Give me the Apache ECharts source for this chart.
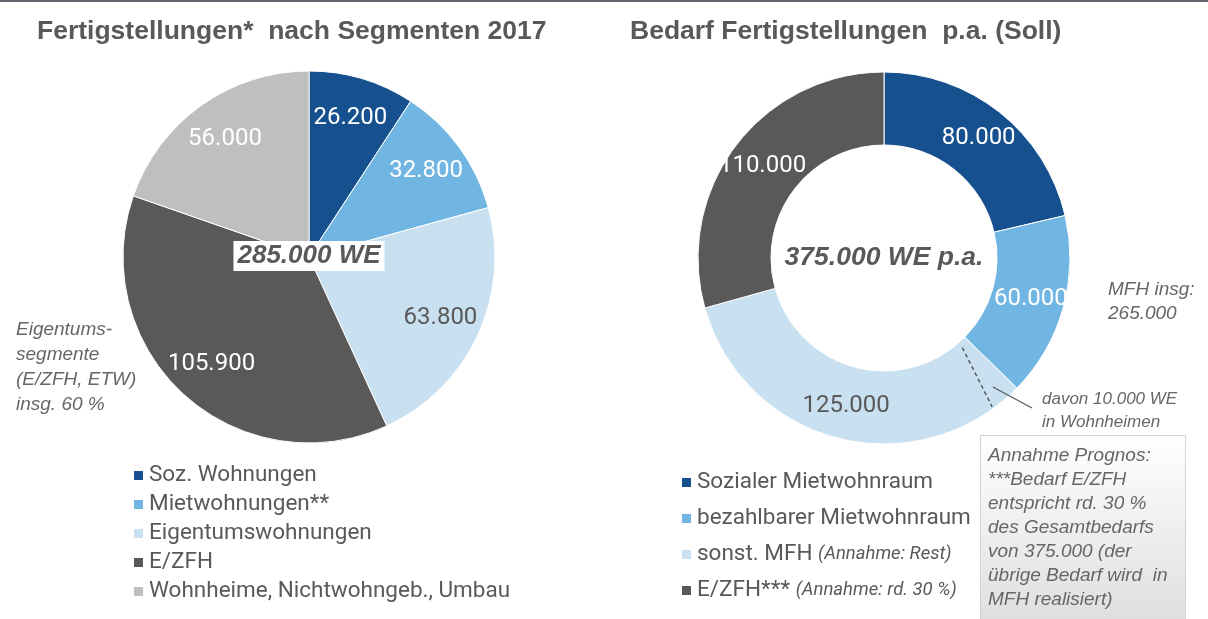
<!DOCTYPE html>
<html>
<head>
<meta charset="utf-8">
<script src="https://cdn.jsdelivr.net/npm/echarts@6/dist/echarts.min.js"></script>
<style>
  html, body { margin: 0; padding: 0; background: #fff; }
  #chart { width: 1208px; height: 619px; }
</style>
</head>
<body>
<div id="chart"></div>
<script>
// Fertigstellungen nach Segmenten 2017
const segNames = ['Soz. Wohnungen', 'Mietwohnungen**', 'Eigentumswohnungen', 'E/ZFH', 'Wohnheime, Nichtwohngeb., Umbau'];
const segValues = [26200, 32800, 63800, 105900, 56000];
// Bedarf Fertigstellungen p.a.
const needNames = ['Sozialer Mietwohnraum', 'bezahlbarer Mietwohnraum', 'sonst. MFH', 'E/ZFH***'];
const needValues = [80000, 60000, 125000, 110000];
const needNotes = ['', '', '(Annahme: Rest)', '(Annahme: rd. 30 %)'];
const wohnheimValue = 10000; // Teil von sonst. MFH

const colors = ['#17508f', '#71b5e2', '#c8e0f0', '#595959', '#bfbfbf'];
const labelColors = ['#ffffff', '#ffffff', '#595959', '#ffffff', '#ffffff'];
const txt = '#595959';
const font = 'Roboto, "Liberation Sans", sans-serif';
const arial = '"Liberation Sans", Arial, sans-serif';

function fmt(v) {
  return String(v).replace(/\B(?=(\d{3})+(?!\d))/g, '.');
}

const leftCenter = [309, 257];
const rightCenter = [884, 258];
const rOuter = 186, rInner = 113;

const segData = segNames.map((n, i) => ({ name: n, value: segValues[i], itemStyle: { color: colors[i] } }));
const segLabelData = segNames.map((n, i) => ({
  name: n, value: segValues[i],
  label: { color: labelColors[i] }
}));
const needData = needNames.map((n, i) => ({
  name: n, value: needValues[i],
  itemStyle: { color: colors[i] },
  label: { color: labelColors[i] }
}));

// gestrichelte Linie: Anteil Wohnheime innerhalb sonst. MFH
const needSum = needValues.reduce((a, b) => a + b, 0);
const ang = (needValues[0] + needValues[1] + wohnheimValue) / needSum * Math.PI * 2;
const dashX1 = rightCenter[0] + (rInner + 6) * Math.sin(ang - 0.09);
const dashY1 = rightCenter[1] - (rInner + 6) * Math.cos(ang - 0.09);
const dashX2 = rightCenter[0] + (rOuter - 2) * Math.sin(ang);
const dashY2 = rightCenter[1] - (rOuter - 2) * Math.cos(ang);

const noteLines = ['Annahme Prognos:', '***Bedarf E/ZFH', 'entspricht rd. 30 %', 'des Gesamtbedarfs',
  'von 375.000 (der', 'übrige Bedarf wird  in', 'MFH realisiert)'];

const chart = echarts.init(document.getElementById('chart'));
const option = {
  animation: false,
  title: [
    { text: 'Fertigstellungen*  nach Segmenten 2017', left: 32, top: 13,
      textStyle: { fontFamily: arial, fontWeight: 'bold', fontSize: 26.5, color: txt } },
    { text: 'Bedarf Fertigstellungen  p.a. (Soll)', left: 625, top: 13,
      textStyle: { fontFamily: arial, fontWeight: 'bold', fontSize: 26.5, color: txt } }
  ],
  legend: [
    {
      orient: 'vertical', left: 127, top: 459, itemWidth: 11, itemHeight: 11, itemGap: 6,
      icon: 'rect',
      data: segNames.map((n, i) => ({ name: n, itemStyle: { color: colors[i] } })),
      textStyle: { fontFamily: font, fontSize: 22.5, color: txt, lineHeight: 23 },
      selectedMode: false
    },
    {
      orient: 'vertical', left: 675, top: 466, itemWidth: 11, itemHeight: 11, itemGap: 13,
      icon: 'rect',
      data: needNames.map((n, i) => ({ name: n, itemStyle: { color: colors[i] } })),
      formatter: name => {
        const note = needNotes[needNames.indexOf(name)];
        return note ? name + ' {i|' + note + '}' : name;
      },
      textStyle: {
        fontFamily: font, fontSize: 22.5, color: txt, lineHeight: 23,
        rich: { i: { fontFamily: font, fontSize: 18.5, fontStyle: 'italic', color: txt, lineHeight: 23 } }
      },
      selectedMode: false
    }
  ],
  series: [
    {
      type: 'pie', center: leftCenter, radius: rOuter, silent: true,
      startAngle: 90, clockwise: true,
      itemStyle: { borderColor: '#ffffff', borderWidth: 1 },
      label: { show: false }, labelLine: { show: false },
      data: segData
    },
    {
      // nur Beschriftung, weiter außen platziert
      type: 'pie', center: leftCenter, radius: [98, rOuter], silent: true,
      startAngle: 90, clockwise: true,
      itemStyle: { color: 'rgba(0,0,0,0)' },
      label: { show: true, position: 'inside', fontFamily: font, fontSize: 24,
        formatter: p => fmt(p.value) },
      labelLine: { show: false },
      data: segLabelData
    },
    {
      type: 'pie', center: rightCenter, radius: [rInner, rOuter], silent: true,
      startAngle: 90, clockwise: true,
      itemStyle: { borderColor: '#ffffff', borderWidth: 1 },
      label: { show: true, position: 'inside', fontFamily: font, fontSize: 24,
        formatter: p => fmt(p.value) },
      labelLine: { show: false },
      data: needData
    }
  ],
  graphic: [
    { type: 'rect', z: 100, left: 0, top: 0, shape: { width: 1208, height: 2 }, style: { fill: '#5e656d' } },
    {
      type: 'text', z: 100, x: leftCenter[0], y: leftCenter[1] - 1,
      style: { text: '285.000 WE', align: 'center', verticalAlign: 'middle',
        font: 'italic bold 26px ' + arial, fill: txt,
        backgroundColor: '#ffffff', padding: [3, 4, 1, 4] }
    },
    {
      type: 'text', z: 100, x: rightCenter[0], y: rightCenter[1],
      style: { text: '375.000 WE p.a.', align: 'center', verticalAlign: 'middle',
        font: 'italic bold 26.5px ' + arial, fill: txt }
    },
    {
      type: 'text', z: 100, x: 16, y: 317,
      style: { text: 'Eigentums-\nsegmente\n(E/ZFH, ETW)\ninsg. 60 %', lineHeight: 25,
        font: 'italic 19px ' + arial, fill: '#666666' }
    },
    {
      type: 'text', z: 100, x: 1108, y: 278,
      style: { text: 'MFH insg:\n265.000', lineHeight: 24,
        font: 'italic 19px ' + arial, fill: '#666666' }
    },
    {
      type: 'text', z: 100, x: 1042, y: 388,
      style: { text: 'davon 10.000 WE\nin Wohnheimen', lineHeight: 23,
        font: 'italic 17px ' + arial, fill: '#666666' }
    },
    {
      type: 'line', z: 100, shape: { x1: dashX1, y1: dashY1, x2: dashX2, y2: dashY2 },
      style: { stroke: '#555555', lineWidth: 1.4, lineDash: [4, 3] }
    },
    {
      type: 'line', z: 100, shape: { x1: 993, y1: 387, x2: 1032, y2: 408 },
      style: { stroke: '#555555', lineWidth: 1.2 }
    },
    {
      type: 'rect', z: 100, shape: { x: 980.5, y: 435.5, width: 205, height: 190 },
      style: {
        stroke: '#d4d4d4', lineWidth: 1,
        fill: new echarts.graphic.LinearGradient(0, 0, 0, 1, [
          { offset: 0, color: '#ffffff' }, { offset: 1, color: '#dedede' }
        ])
      }
    },
    {
      type: 'text', z: 101, x: 988, y: 444,
      style: { text: noteLines.join('\n'), lineHeight: 24,
        font: 'italic 19px ' + arial, fill: '#666666' }
    }
  ]
};
chart.setOption(option);
</script>
</body>
</html>
